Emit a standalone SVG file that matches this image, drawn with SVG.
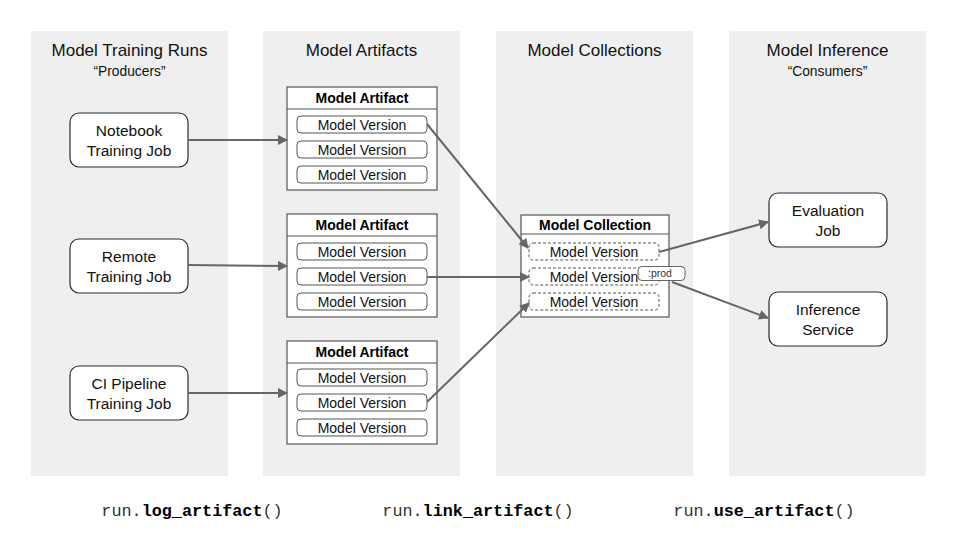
<svg xmlns="http://www.w3.org/2000/svg" width="960" height="540" viewBox="0 0 960 540">
<defs>
<marker id="ah" viewBox="0 0 10 10" refX="9" refY="5" markerWidth="5" markerHeight="5" orient="auto" markerUnits="strokeWidth">
<path d="M0,0 L10,5 L0,10 z" fill="#666"/>
</marker>
<style>
.col{fill:#efefef}
.title{font-family:"Liberation Sans",Arial,sans-serif;font-size:17px;fill:#111;text-anchor:middle}
.sub{font-family:"Liberation Sans",Arial,sans-serif;font-size:13.8px;fill:#111;text-anchor:middle}
.node{fill:#fff;stroke:#1f2d3a;stroke-width:1.2}
.nt{font-family:"Liberation Sans",Arial,sans-serif;font-size:15.5px;fill:#111;text-anchor:middle}
.box{fill:#fff;stroke:#555;stroke-width:1.2}
.bh{font-family:"Liberation Sans",Arial,sans-serif;font-size:14px;font-weight:bold;fill:#000;text-anchor:middle}
.mv{fill:#fff;stroke:#555;stroke-width:1}
.mvd{fill:#fff;stroke:#555;stroke-width:1;stroke-dasharray:3,2}
.mt{font-family:"Liberation Sans",Arial,sans-serif;font-size:14px;fill:#111;text-anchor:middle}
.conn{stroke:#666;stroke-width:2;fill:none;marker-end:url(#ah)}
.code{font-family:"Liberation Mono","Courier New",monospace;font-size:16.8px;fill:#333;text-anchor:middle}
.b{font-weight:bold;fill:#000}
</style>
</defs>
<rect width="960" height="540" fill="#fff"/>
<g id="columns">
<rect class="col" x="31" y="31" width="197" height="445"/>
<rect class="col" x="263" y="31" width="197" height="445"/>
<rect class="col" x="496" y="31" width="197" height="445"/>
<rect class="col" x="729" y="31" width="197" height="445"/>
<text class="title" x="129.5" y="56">Model Training Runs</text>
<text class="sub" x="129.5" y="76">“Producers”</text>
<text class="title" x="361.5" y="56">Model Artifacts</text>
<text class="title" x="594.5" y="56">Model Collections</text>
<text class="title" x="827.5" y="56">Model Inference</text>
<text class="sub" x="827.5" y="76">“Consumers”</text>
</g>
<g id="notebook">
<rect class="node" x="70" y="113" width="118" height="54" rx="9"/>
<text class="nt" x="129" y="136">Notebook</text>
<text class="nt" x="129" y="156">Training Job</text>
</g>
<g id="remote">
<rect class="node" x="70" y="239" width="118" height="54" rx="9"/>
<text class="nt" x="129" y="262">Remote</text>
<text class="nt" x="129" y="282">Training Job</text>
</g>
<g id="ci">
<rect class="node" x="70" y="366" width="118" height="54" rx="9"/>
<text class="nt" x="129" y="389">CI Pipeline</text>
<text class="nt" x="129" y="409">Training Job</text>
</g>
<g id="artifact1">
<rect class="box" x="287" y="87" width="150" height="103"/>
<line x1="287" y1="109" x2="437" y2="109" stroke="#555" stroke-width="1.2"/>
<text class="bh" x="362" y="103">Model Artifact</text>
<rect class="mv" x="297" y="116" width="130" height="17" rx="4"/>
<text class="mt" x="362" y="129.5">Model Version</text>
<rect class="mv" x="297" y="141" width="130" height="17" rx="4"/>
<text class="mt" x="362" y="154.5">Model Version</text>
<rect class="mv" x="297" y="166" width="130" height="17" rx="4"/>
<text class="mt" x="362" y="179.5">Model Version</text>
</g>
<g id="artifact2">
<rect class="box" x="287" y="214" width="150" height="103"/>
<line x1="287" y1="236" x2="437" y2="236" stroke="#555" stroke-width="1.2"/>
<text class="bh" x="362" y="230">Model Artifact</text>
<rect class="mv" x="297" y="243" width="130" height="17" rx="4"/>
<text class="mt" x="362" y="256.5">Model Version</text>
<rect class="mv" x="297" y="268" width="130" height="17" rx="4"/>
<text class="mt" x="362" y="281.5">Model Version</text>
<rect class="mv" x="297" y="293" width="130" height="17" rx="4"/>
<text class="mt" x="362" y="306.5">Model Version</text>
</g>
<g id="artifact3">
<rect class="box" x="287" y="341" width="150" height="103"/>
<line x1="287" y1="363" x2="437" y2="363" stroke="#555" stroke-width="1.2"/>
<text class="bh" x="362" y="357">Model Artifact</text>
<rect class="mv" x="297" y="369" width="130" height="17" rx="4"/>
<text class="mt" x="362" y="382.5">Model Version</text>
<rect class="mv" x="297" y="394" width="130" height="17" rx="4"/>
<text class="mt" x="362" y="407.5">Model Version</text>
<rect class="mv" x="297" y="419" width="130" height="17" rx="4"/>
<text class="mt" x="362" y="432.5">Model Version</text>
</g>
<g id="collection">
<rect class="box" x="521" y="215" width="148" height="102"/>
<line x1="521" y1="234" x2="669" y2="234" stroke="#555" stroke-width="1.2"/>
<text class="bh" x="595" y="229.5">Model Collection</text>
<rect class="mvd" x="529" y="243" width="130" height="17" rx="4"/>
<text class="mt" x="594" y="256.5">Model Version</text>
<rect class="mvd" x="529" y="268" width="130" height="17" rx="4"/>
<text class="mt" x="594" y="281.5">Model Version</text>
<rect class="mvd" x="529" y="293" width="130" height="17" rx="4"/>
<text class="mt" x="594" y="306.5">Model Version</text>
</g>
<g id="prod">
<rect x="638" y="266.5" width="47" height="14" rx="4" fill="#fff" stroke="#666" stroke-width="1"/>
<text x="660" y="277" font-family="'Liberation Sans',Arial,sans-serif" font-size="10.5" fill="#333" text-anchor="middle">:prod</text>
</g>
<g id="evaluation">
<rect class="node" x="769" y="193" width="118" height="54" rx="9"/>
<text class="nt" x="828" y="216">Evaluation</text>
<text class="nt" x="828" y="236">Job</text>
</g>
<g id="inference">
<rect class="node" x="769" y="292" width="118" height="54" rx="9"/>
<text class="nt" x="828" y="315">Inference</text>
<text class="nt" x="828" y="335">Service</text>
</g>
<g id="connectors">
<line class="conn" x1="188" y1="140" x2="287" y2="140"/>
<line class="conn" x1="188" y1="265" x2="287" y2="266"/>
<line class="conn" x1="188" y1="393" x2="287" y2="393"/>
<line class="conn" x1="427" y1="124" x2="528" y2="248"/>
<line class="conn" x1="427" y1="277" x2="529" y2="277"/>
<line class="conn" x1="427" y1="402" x2="529" y2="303"/>
<line class="conn" x1="659" y1="252" x2="768" y2="222"/>
<line class="conn" x1="672" y1="282" x2="768" y2="318"/>
</g>
<g id="code">
<text class="code" x="192" y="516">run.<tspan class="b">log_artifact</tspan>()</text>
<text class="code" x="478" y="516">run.<tspan class="b">link_artifact</tspan>()</text>
<text class="code" x="764" y="516">run.<tspan class="b">use_artifact</tspan>()</text>
</g>
</svg>
